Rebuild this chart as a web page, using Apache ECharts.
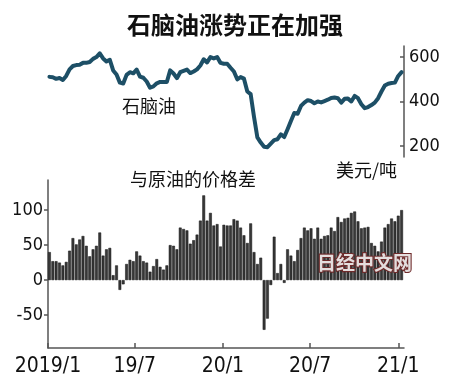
<!DOCTYPE html>
<html>
<head>
<meta charset="utf-8">
<script src="https://cdn.jsdelivr.net/npm/echarts@6/dist/echarts.min.js"></script>
<style>html,body{margin:0;padding:0;background:#fff}#c{width:450px;height:390px}</style>
</head>
<body>
<div id="c"></div>
<script>
// Weekly observations starting 2019-01-04
var startDate = '2019-01-04';
var tickDates = ['2019-01-01', '2019-07-01', '2020-01-01', '2020-07-01', '2021-01-01'];
var tickLabels = ['2019/1', '19/7', '20/1', '20/7', '21/1'];
var naphtha = [511,509,502,506,497,515,545,560,564,566,574,574,578,592,600,617,594,580,588,540,
  522,485,481,520,532,527,544,512,507,490,462,468,482,488,488,488,540,526,505,532,
  538,544,528,535,545,562,590,576,600,594,600,574,570,570,552,535,500,510,503,445,
  433,330,238,215,196,194,210,226,230,252,240,275,312,348,345,380,395,406,402,392,
  400,396,402,408,416,418,415,395,412,413,400,425,415,388,370,375,384,395,415,445,
  472,480,483,485,515,532];
var spread = [40,27,27,25,21,26,42,60,51,58,63,49,34,44,49,68,35,44,46,7,
  21,-14,-6,23,29,27,41,35,27,25,12,20,30,19,15,21,
  50,49,44,75,73,71,52,57,65,85,121,85,96,78,80,48,79,78,78,87,85,75,64,53,81,40,23,32,-71,-55,-7,62,10,23,
  -4,44,35,27,43,60,75,71,74,59,75,59,63,64,75,70,90,83,88,89,96,98,84,74,75,76,53,49,41,55,75,80,88,84,92,100];
var lineTicks = [200, 400, 600];
var barTicks = [-50, 0, 50, 100];

var DAY = 86400000;
var base = Date.UTC(2019, 0, 1);
function dayOf(s) { var p = s.split('-'); return (Date.UTC(+p[0], +p[1] - 1, +p[2]) - base) / DAY; }
var d0 = dayOf(startDate);
var lineData = naphtha.map(function (v, i) { return [d0 + 7 * i, v]; });
var barData = spread.map(function (v, i) { return [d0 + 7 * i, v]; });
var tickVals = tickDates.map(dayOf);
var labelMap = {};
tickVals.forEach(function (d, i) { labelMap[d] = tickLabels[i]; });

var numFont = '"DejaVu Sans Condensed", "Liberation Sans", sans-serif';
var cjk = '"Noto Sans CJK SC", sans-serif';
var axisColor = '#555';

var chart = echarts.init(document.getElementById('c'), null, { renderer: 'canvas' });
chart.setOption({
  animation: false,
  backgroundColor: '#fff',
  title: {
    text: '石脑油涨势正在加强', left: 230, top: 8, textAlign: 'center',
    textStyle: { fontFamily: cjk, fontSize: 24, fontWeight: 'bold', color: '#111' }
  },
  grid: [
    { left: 48, width: 356, top: 46, height: 111 },
    { left: 48, width: 356, top: 180, height: 168 }
  ],
  xAxis: [
    { type: 'value', gridIndex: 0, min: 0, max: 743, show: false, splitLine: { show: false } },
    {
      type: 'value', gridIndex: 1, min: 0, max: 743,
      splitLine: { show: false },
      axisLine: { onZero: false, lineStyle: { color: axisColor, width: 1.5 } },
      axisTick: { customValues: tickVals, inside: true, length: 5, lineStyle: { color: axisColor, width: 1.5 } },
      axisLabel: {
        customValues: tickVals, margin: 8,
        formatter: function (v) { return labelMap[v] || ''; },
        fontFamily: numFont, fontSize: 21, color: '#111'
      }
    }
  ],
  yAxis: [
    {
      type: 'value', gridIndex: 0, position: 'right', min: 150, max: 650,
      splitLine: { show: false },
      axisLine: { show: true, onZero: false, lineStyle: { color: axisColor, width: 1.5 } },
      axisTick: { show: true, customValues: lineTicks, inside: true, length: 4, lineStyle: { color: axisColor, width: 1.5 } },
      axisLabel: { customValues: lineTicks, margin: 5, fontFamily: numFont, fontSize: 18, color: '#111' }
    },
    {
      type: 'value', gridIndex: 1, min: -97, max: 143,
      splitLine: { show: false },
      axisLine: { show: true, onZero: false, lineStyle: { color: axisColor, width: 1.5 } },
      axisTick: { show: true, customValues: barTicks, length: 4, lineStyle: { color: axisColor, width: 1.5 } },
      axisLabel: { customValues: barTicks, margin: 5, fontFamily: numFont, fontSize: 18, color: '#111' }
    }
  ],
  series: [
    {
      type: 'line', xAxisIndex: 0, yAxisIndex: 0, data: lineData,
      showSymbol: false, symbol: 'none',
      lineStyle: { color: '#1d4f66', width: 4, join: 'round', cap: 'round' }
    },
    {
      type: 'bar', xAxisIndex: 1, yAxisIndex: 1, data: barData,
      barWidth: 2.8,
      itemStyle: { color: '#383838', borderColor: '#111', borderWidth: 0.5 }
    }
  ],
  graphic: [
    { type: 'text', left: 122, top: 97, style: { text: '石脑油', font: '18px "Noto Sans CJK SC"', fill: '#111' } },
    { type: 'text', left: 130, top: 170, style: { text: '与原油的价格差', font: '18px "Noto Sans CJK SC"', fill: '#111' } },
    { type: 'text', left: 336, top: 161, style: { text: '美元/吨', font: '18px "Noto Sans CJK SC"', fill: '#111' } },
    { type: 'text', left: 316, top: 252, z: 100, style: { text: '日经中文网', font: 'bold 19px "Noto Sans CJK SC"', fill: '#e4dede', stroke: '#6e2a2a', lineWidth: 2.2 } }
  ]
});
</script>
</body>
</html>
